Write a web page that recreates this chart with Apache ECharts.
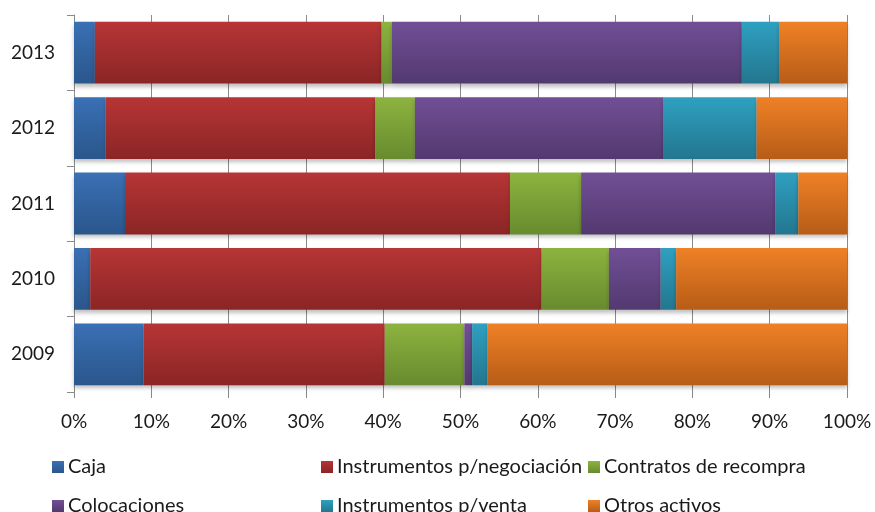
<!DOCTYPE html>
<html>
<head>
<meta charset="utf-8">
<script src="https://cdn.jsdelivr.net/npm/echarts@6/dist/echarts.min.js"></script>
<style>
html, body { margin: 0; padding: 0; background: #fff; }
#chart { width: 875px; height: 512px; }
</style>
</head>
<body>
<div id="chart"></div>
<script>
var years = ['2009', '2010', '2011', '2012', '2013'];
var caja = [9.0, 2.1, 6.6, 4.1, 2.7];
var instNegociacion = [31.2, 58.4, 49.8, 34.9, 37.1];
var contratos = [10.3, 8.7, 9.2, 5.1, 1.3];
var colocaciones = [1.0, 6.7, 25.1, 32.1, 45.3];
var instVenta = [2.0, 2.0, 3.0, 12.1, 4.8];
var otros = [46.5, 22.1, 6.3, 11.7, 8.8];

var font = 'Lato';

function grad(top, bottom) {
    return new echarts.graphic.LinearGradient(0, 0, 0, 1, [
        { offset: 0, color: top },
        { offset: 1, color: bottom }
    ]);
}

function barSeries(name, data, top, bottom) {
    return {
        name: name,
        type: 'bar',
        stack: 'total',
        barCategoryGap: '18%',
        data: data,
        itemStyle: {
            color: grad(top, bottom),
            shadowColor: 'rgba(0,0,0,0.25)',
            shadowBlur: 4,
            shadowOffsetY: 3
        }
    };
}

// one legend per item, laid out in the 3x2 grid of the original
function legendItem(name, left, top) {
    return {
        left: left, top: top,
        itemWidth: 12, itemHeight: 12, itemGap: 4, icon: 'rect',
        textStyle: { fontFamily: font, fontSize: 20, color: '#1a1a1a', padding: [0, 0, 0, -1] },
        data: [name]
    };
}

var myChart = echarts.init(document.getElementById('chart'));
var option = {
    animation: false,
    grid: { left: 74, right: 28, top: 15, bottom: 120 },
    legend: [
        legendItem('Caja', 47, 452),
        legendItem('Instrumentos p/negociación', 316, 452),
        legendItem('Contratos de recompra', 583, 452),
        legendItem('Colocaciones', 47, 491),
        legendItem('Instrumentos p/venta', 316, 491),
        legendItem('Otros activos', 583, 491)
    ],
    xAxis: {
        type: 'value',
        min: 0,
        max: 100,
        interval: 10,
        axisLine: { show: false },
        axisTick: { show: true, length: 6, lineStyle: { color: '#888' } },
        splitLine: { show: true, lineStyle: { color: '#8a8a8a', width: 1 } },
        axisLabel: { formatter: '{value}%', fontFamily: font, fontSize: 19, color: '#1a1a1a', margin: 20 }
    },
    yAxis: {
        type: 'category',
        data: years,
        axisLine: { show: true, lineStyle: { color: '#8a8a8a' } },
        axisTick: { show: true, length: 7, lineStyle: { color: '#8a8a8a' } },
        axisLabel: { fontFamily: font, fontSize: 19, color: '#1a1a1a', margin: 19 }
    },
    series: [
        barSeries('Caja', caja, '#3a70b5', '#2a568b'),
        barSeries('Instrumentos p/negociación', instNegociacion, '#b73535', '#8b2525'),
        barSeries('Contratos de recompra', contratos, '#8db33f', '#678b2e'),
        barSeries('Colocaciones', colocaciones, '#714f96', '#52396f'),
        barSeries('Instrumentos p/venta', instVenta, '#2fa0c0', '#23768f'),
        barSeries('Otros activos', otros, '#ef8126', '#b75c17')
    ]
};
myChart.setOption(option);
</script>
</body>
</html>
